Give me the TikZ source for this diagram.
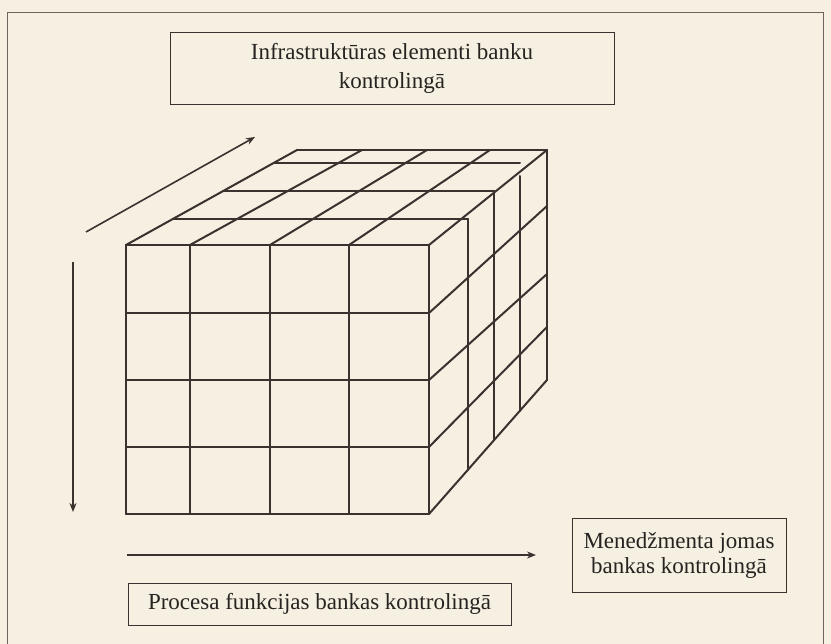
\documentclass[tikz,border=0pt]{standalone}
\usepackage{fontspec}
\setmainfont{Liberation Serif}
\usetikzlibrary{arrows.meta}
\definecolor{paper}{RGB}{246,240,226}
\definecolor{ink}{RGB}{58,50,46}
\definecolor{textink}{RGB}{40,34,32}
\definecolor{frameink}{RGB}{110,100,95}
\begin{document}
\begin{tikzpicture}[x=1pt,y=-1pt,
  cube/.style={draw=ink,line width=2pt,line cap=round},
  labelbox/.style={draw=ink,line width=0.9pt,align=center,text=textink,inner sep=0pt,
    font=\fontsize{23}{29}\selectfont},
  arr/.style={draw=ink,line width=1.6pt,-{Stealth[length=9pt,width=7pt]}}]
\fill[paper] (0,0) rectangle (831,644);
\useasboundingbox (0,0) rectangle (831,644);
% page frame
\draw[frameink,line width=0.8pt] (7,644) -- (7,12) -- (823,12) -- (823,644);

% label boxes
\node[labelbox,minimum width=444pt,minimum height=72pt] (infra) at (392,68)
  {Infrastruktūras elementi banku\\kontrolingā};
\node[labelbox,minimum width=214pt,minimum height=74pt,font=\fontsize{23}{25}\selectfont] (mened) at (679,555)
  {Menedžmenta jomas\\bankas kontrolingā};
\node[labelbox,minimum width=383pt,minimum height=42pt] (proc) at (319.5,604)
  {Procesa funkcijas bankas kontrolingā};

% cube: front face
\foreach \x in {126,190,270,349,429} \draw[cube] (\x,245) -- (\x,514);
\foreach \y in {245,313,380,447,514} \draw[cube] (126,\y) -- (429,\y);
% top face
\foreach \a/\b in {126/297,190/362,270/427,349/490,429/547} \draw[cube] (\a,245) -- (\b,150);
\draw[cube] (297,150) -- (547,150);
\draw[cube] (173,219) -- (468,219);
\draw[cube] (223,191) -- (494,191);
\draw[cube] (274,163) -- (520,163);
% right face
\draw[cube] (547,150) -- (547,380);
\draw[cube] (468,219) -- (468,470);
\draw[cube] (494,191) -- (494,440);
\draw[cube] (520,176) -- (520,411);
\draw[cube] (429,313) -- (547,206);
\draw[cube] (429,380) -- (547,274);
\draw[cube] (429,447) -- (547,327);
\draw[cube] (429,514) -- (547,380);

% direction arrows
\coordinate (d1) at (86,232); \coordinate (d2) at (255,137);
\coordinate (v1) at (73,262); \coordinate (v2) at (73,512);
\coordinate (h1) at (127,555); \coordinate (h2) at (536,555);
\draw[arr] (d1) -- (d2);
\draw[arr] (v1) -- (v2);
\draw[arr] (h1) -- (h2);
\end{tikzpicture}
\end{document}
